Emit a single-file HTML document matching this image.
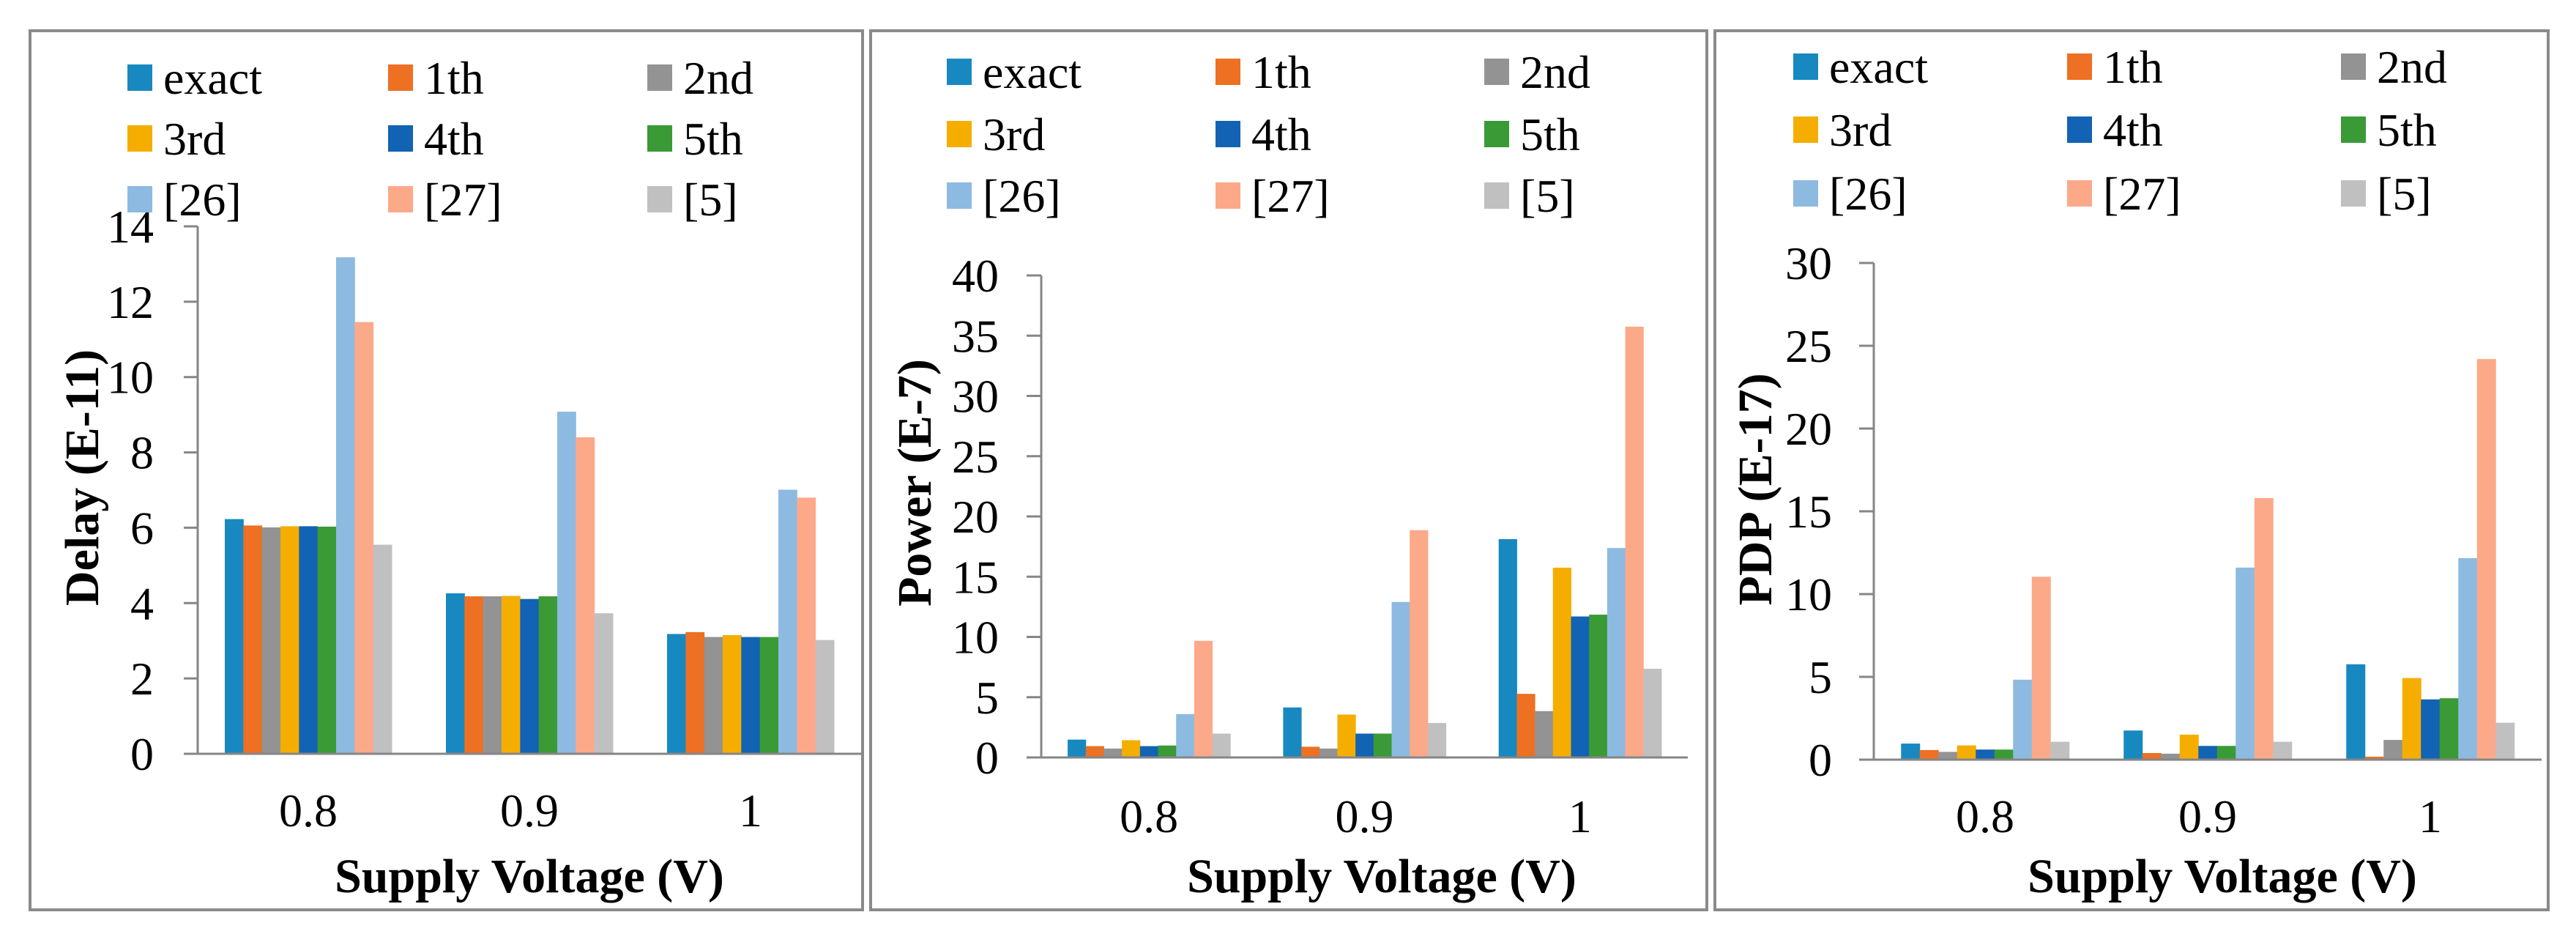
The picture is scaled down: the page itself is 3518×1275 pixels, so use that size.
<!DOCTYPE html>
<html><head><meta charset="utf-8">
<style>
html,body{margin:0;padding:0;background:#fff;}
svg{display:block;}
svg text{fill:#000;}
</style></head>
<body>
<svg id="chart" width="3518" height="1275" viewBox="0 0 3518 1275" xmlns="http://www.w3.org/2000/svg"></svg>
<script>
const categories = ["0.8", "0.9", "1"];
const seriesNames = ["exact", "1th", "2nd", "3rd", "4th", "5th", "[26]", "[27]", "[5]"];
const delayValues = [
  [6.23, 4.26, 3.18],
  [6.06, 4.18, 3.23],
  [6.01, 4.18, 3.10],
  [6.04, 4.19, 3.15],
  [6.04, 4.11, 3.10],
  [6.03, 4.18, 3.10],
  [13.18, 9.08, 7.01],
  [11.46, 8.40, 6.80],
  [5.55, 3.73, 3.02]
];
const powerValues = [
  [1.48, 4.15, 18.12],
  [0.94, 0.89, 5.28],
  [0.74, 0.74, 3.85],
  [1.43, 3.56, 15.75],
  [0.94, 1.98, 11.7],
  [0.99, 1.98, 11.85],
  [3.6, 12.9, 17.38],
  [9.68, 18.86, 35.75],
  [1.98, 2.86, 7.36]
];
const pdpValues = [
  [0.97, 1.76, 5.76],
  [0.58, 0.40, 0.18],
  [0.47, 0.36, 1.19],
  [0.86, 1.51, 4.93],
  [0.61, 0.83, 3.64],
  [0.61, 0.83, 3.71],
  [4.83, 11.6, 12.17],
  [11.05, 15.8, 24.2],
  [1.08, 1.08, 2.23]
];
const delayTicks = [0, 2, 4, 6, 8, 10, 12, 14];
const powerTicks = [0, 5, 10, 15, 20, 25, 30, 35, 40];
const pdpTicks = [0, 5, 10, 15, 20, 25, 30];
const colors = ["#1789C0", "#ED7023", "#939393", "#F5AE00", "#1263B3", "#3A9A35", "#8DBAE0", "#FCA98A", "#C0C0C0"];

const svg = document.getElementById('chart');
const NS = 'http://www.w3.org/2000/svg';
const FF = '"Liberation Serif", "Noto Serif CJK SC", "DejaVu Serif", serif';
function mk(tag, attrs, parent) {
  const e = document.createElementNS(NS, tag);
  for (const k in attrs) e.setAttribute(k, attrs[k]);
  if (tag === 'text') e.style.fontFamily = FF;
  parent.appendChild(e);
  return e;
}

const panels = [
  {name:'delay', title:'Delay (E-11)', data:delayValues, ticks:delayTicks,
   box:[41,42,1178,1242], ax:270, axR:1176, tickL:251, y0:1029, yTop:309,
   tickX:210, titleX:111, titleY:652, swX:[174,530,884], txOff:49, rows:[106,189,272], xlabY:1106, axTitleX:723},
  {name:'power', title:'Power (E-7)', data:powerValues, ticks:powerTicks,
   box:[1189,42,2331,1242], ax:1422, axR:2305, tickL:1402, y0:1034, yTop:376,
   tickX:1364, titleX:1248, titleY:659, swX:[1293,1660,2027], txOff:49, rows:[98,183,267], xlabY:1114, axTitleX:1887},
  {name:'pdp', title:'PDP (E-17)', data:pdpValues, ticks:pdpTicks,
   box:[2342,42,3480,1242], ax:2559, axR:3471, tickL:2539, y0:1037, yTop:359,
   tickX:2502, titleX:2396, titleY:668, swX:[2449,2823,3197], txOff:49, rows:[91,177,264], xlabY:1114, axTitleX:3035}
];

panels.forEach(p => {
  const g = mk('g', {}, svg);
  
  
  const border = mk('rect', {x:p.box[0], y:p.box[1], width:p.box[2]-p.box[0], height:p.box[3]-p.box[1], fill:'#fff', stroke:'#8a8a8a', 'stroke-width':4}, g);
  
  

  const maxT = p.ticks[p.ticks.length-1];
  const yScale = v => p.y0 - (v / maxT) * (p.y0 - p.yTop);
  const catW = (p.axR - p.ax) / categories.length;
  const groupW = catW * 0.755;
  const barW = groupW / seriesNames.length;
  const xCat = i => p.ax + i * catW + (catW - groupW) / 2;

  p.data.forEach((series, s) => {
    series.forEach((v, c) => {
      const y = yScale(v);
      const r = mk('rect', {x:xCat(c) + s*barW, y:y, width:barW+0.5, height:p.y0 - y, fill:colors[s]}, g);
      
      
    });
  });

  const yAxis = mk('line', {x1:p.ax, y1:p.yTop, x2:p.ax, y2:p.y0, stroke:'#868686', 'stroke-width':3}, g);
  
  
  const xAxis = mk('line', {x1:p.tickL, y1:p.y0, x2:p.axR, y2:p.y0, stroke:'#868686', 'stroke-width':3}, g);
  
  

  p.ticks.forEach(t => {
    const y = yScale(t);
    const tk = mk('line', {x1:p.tickL, y1:y, x2:p.ax, y2:y, stroke:'#868686', 'stroke-width':3}, g);
    
    
    const tl = mk('text', {x:p.tickX, y:y + 22, 'font-size':64, 'text-anchor':'end'}, g);
    tl.textContent = String(t);
    
    
  });

  categories.forEach((c, i) => {
    const xl = mk('text', {x:p.ax + (i + 0.5) * catW, y:p.xlabY + 22, 'font-size':64, 'text-anchor':'middle'}, g);
    xl.textContent = c;
    
    
  });

  const xt = mk('text', {x:p.axTitleX, y:1195 + 23, 'font-size':66, 'font-weight':'bold', 'text-anchor':'middle'}, g);
  xt.textContent = 'Supply Voltage (V)';
  
  

  const yt = mk('text', {x:0, y:0, 'font-size':66, 'font-weight':'bold', 'text-anchor':'middle',
    transform:'translate(' + (p.titleX + 23) + ',' + p.titleY + ') rotate(-90)'}, g);
  yt.textContent = p.title;
  
  

  seriesNames.forEach((n, s) => {
    const col = s % 3, row = Math.floor(s / 3);
    const lg = mk('g', {}, g);
    
    
    mk('rect', {x:p.swX[col], y:p.rows[row] - 18, width:34, height:36, fill:colors[s]}, lg);
    const lt = mk('text', {x:p.swX[col] + p.txOff, y:p.rows[row] + 22, 'font-size':64}, lg);
    lt.textContent = n;
  });
});
</script>
</body></html>
